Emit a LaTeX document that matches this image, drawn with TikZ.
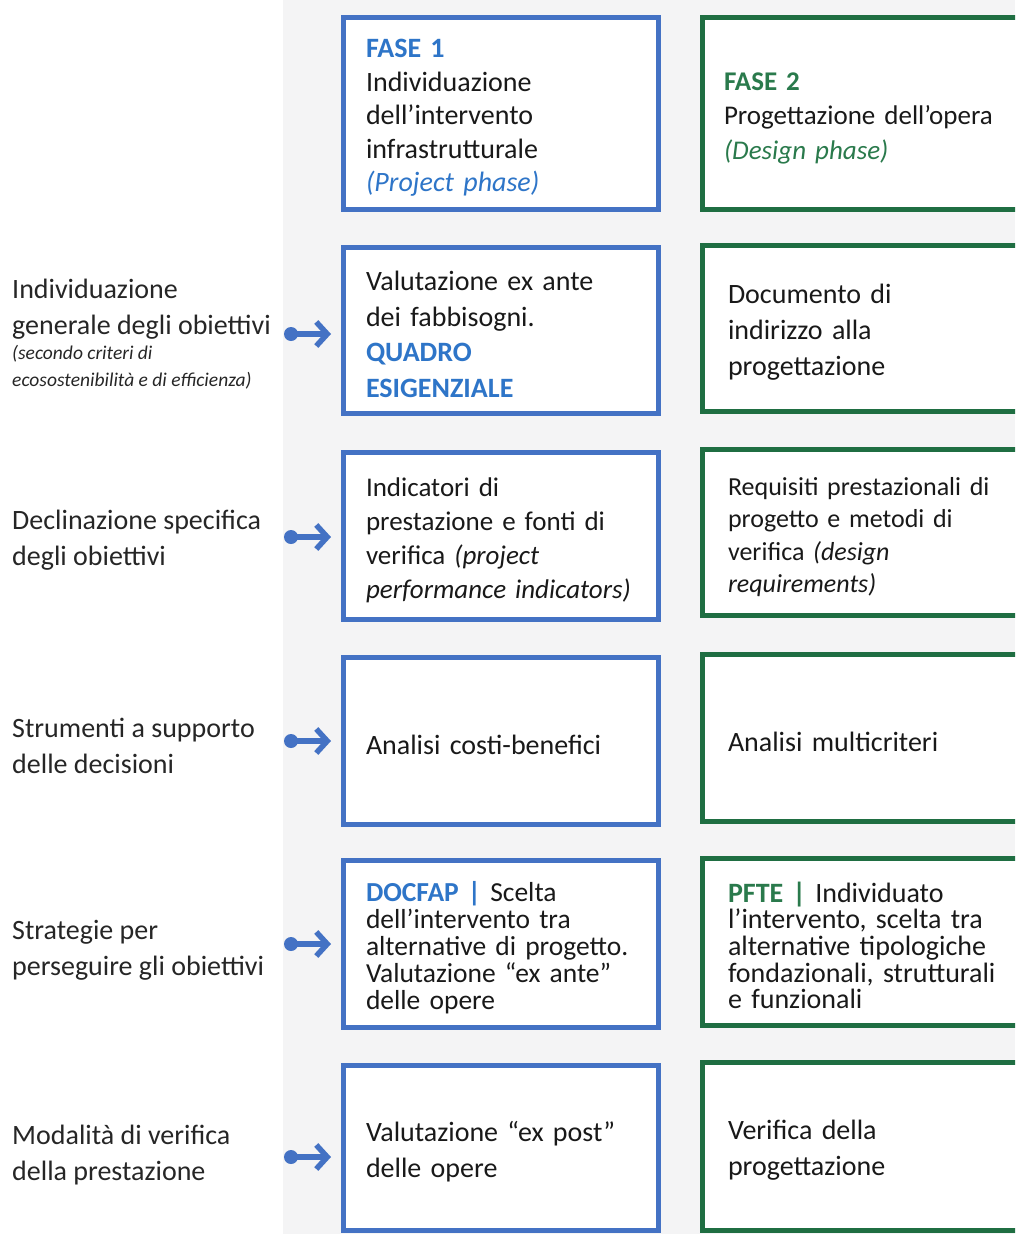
\documentclass[tikz,border=0pt]{standalone}
\usepackage{fontspec}
\setmainfont{Carlito}
\usetikzlibrary{positioning,arrows.meta}
\definecolor{fasebl}{HTML}{4472C4}
\definecolor{bltxt}{HTML}{2E75C8}
\definecolor{fasegr}{HTML}{1F6E42}
\definecolor{grtxt}{HTML}{2A7A4C}
\definecolor{bandgray}{HTML}{F4F4F5}
\definecolor{labtxt}{HTML}{262626}
\hyphenpenalty=10000
\begin{document}
\begin{tikzpicture}[x=1pt,y=-1pt,>={Straight Barb[length=11pt,width=24pt]},
  blubox/.style={draw=fasebl,line width=5pt,fill=white,anchor=north west,minimum width=315pt,
    text width=270pt,inner xsep=22.5pt,align=left,text=black!90,execute at begin node={\rule{0pt}{27pt}}},
  grnbox/.style={draw=fasegr,line width=5pt,fill=white,anchor=north west,minimum width=320pt,
    text width=269pt,inner xsep=25.5pt,align=left,text=black!90,execute at begin node={\rule{0pt}{27pt}}},
  lab/.style={anchor=west,align=left,text=labtxt,inner sep=0pt,font=\fontsize{28}{36}\selectfont},
  link/.style={->,draw=fasebl,line width=5.5pt,shorten >=10pt},
  dot/.style={fill=fasebl}]
\clip (0,0) rectangle (1015,1234);
\fill[bandgray] (283,0) rectangle (1015,1234);
\node[blubox,minimum height=192pt,font=\fontsize{28}{33.5}\selectfont] (b0) at (341,15)
  {\textbf{\textcolor{bltxt}{FASE 1}}\\Individuazione\\dell’intervento\\infrastrutturale\\\textit{\textcolor{bltxt}{(Project phase)}}};
\node[blubox,minimum height=166pt,font=\fontsize{28}{35.5}\selectfont] (b1) at (341,245)
  {Valutazione ex ante\\dei fabbisogni.\\\textbf{\textcolor{bltxt}{QUADRO}}\\\textbf{\textcolor{bltxt}{ESIGENZIALE}}};
\node[blubox,minimum height=167pt,font=\fontsize{27}{34}\selectfont] (b2) at (341,450)
  {Indicatori di\\prestazione e fonti di\\verifica \textit{(project}\\\textit{performance indicators)}};
\node[blubox,minimum height=167pt,font=\fontsize{28}{34}\selectfont] (b3) at (341,655)
  {Analisi costi-benefici};
\node[blubox,minimum height=167pt,font=\fontsize{27.5}{27}\selectfont] (b4) at (341,858)
  {\textbf{\textcolor{bltxt}{DOCFAP |}} Scelta\\dell’intervento tra\\alternative di progetto.\\Valutazione “ex ante”\\delle opere};
\node[blubox,minimum height=165pt,font=\fontsize{28}{36}\selectfont] (b5) at (341,1063)
  {Valutazione “ex post”\\delle opere};
\node[grnbox,minimum height=192pt,font=\fontsize{27}{34.5}\selectfont,inner xsep=21.5pt,text width=277pt] (g0) at (700,15)
  {\textbf{\textcolor{grtxt}{FASE 2}}\\Progettazione dell’opera\\\textit{\textcolor{grtxt}{(Design phase)}}};
\node[grnbox,minimum height=166pt,font=\fontsize{28}{36}\selectfont] (g1) at (700,243)
  {Documento di\\indirizzo alla\\progettazione};
\node[grnbox,minimum height=166pt,font=\fontsize{26}{32.5}\selectfont] (g2) at (700,447)
  {Requisiti prestazionali di\\progetto e metodi di\\verifica \textit{(design}\\\textit{requirements)}};
\node[grnbox,minimum height=167pt,font=\fontsize{28}{34}\selectfont] (g3) at (700,652)
  {Analisi multicriteri};
\node[grnbox,minimum height=167pt,font=\fontsize{28}{26.7}\selectfont] (g4) at (700,856)
  {\textbf{\textcolor{grtxt}{PFTE |}} Individuato\\l’intervento, scelta tra\\alternative tipologiche\\fondazionali, strutturali\\e funzionali};
\node[grnbox,minimum height=168pt,font=\fontsize{28}{36}\selectfont] (g5) at (700,1060)
  {Verifica della\\progettazione};
\node[lab] (l1) at (12,309) {Individuazione\\generale degli obiettivi};
\node[lab,font=\fontsize{19.5}{27}\selectfont\itshape] (l1n) at (12,367.5) {(secondo criteri di\\ecosostenibilità e di efficienza)};
\node[lab] (l2) at (12,540.5) {Declinazione specifica\\degli obiettivi};
\node[lab] (l3) at (12,745.5) {Strumenti a supporto\\delle decisioni};
\node[lab] (l4) at (12,950) {Strategie per\\perseguire gli obiettivi};
\node[lab] (l5) at (12,1155.5) {Modalità di verifica\\della prestazione};
\coordinate (d1) at (291,334);
\coordinate (d2) at (291,537);
\coordinate (d3) at (291,741);
\coordinate (d4) at (291,944);
\coordinate (d5) at (291,1157);
\foreach \i in {1,...,5}{
  \fill[dot] (d\i) circle (7pt);
  \draw[link] (d\i) -- (d\i -| b\i.west);
}
\end{tikzpicture}
\end{document}
